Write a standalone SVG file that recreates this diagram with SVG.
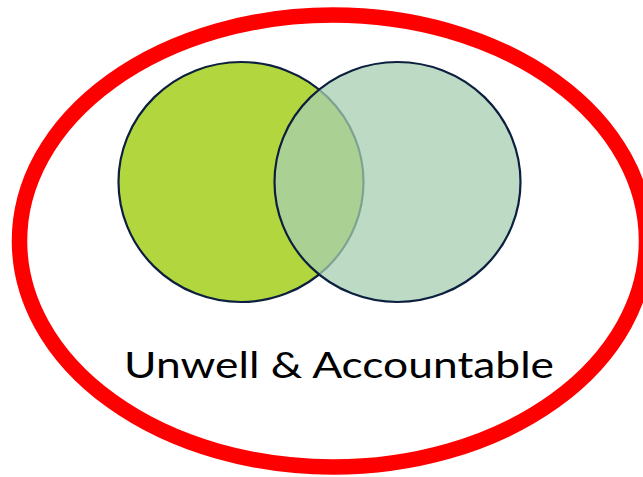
<svg xmlns="http://www.w3.org/2000/svg" width="643" height="477" viewBox="0 0 643 477">
<style>
.ring{fill:none;stroke:#ff0000;stroke-width:15.5}
.set{stroke:#0c1f3f;stroke-width:2.2}
.label{font-family:Lato,"Open Sans",sans-serif;font-size:37px;fill:#000}
</style>
<rect width="643" height="477" fill="#fff"/>
<g id="outer">
<ellipse class="ring" cx="333" cy="241" rx="313.5" ry="226"/>
</g>
<g id="set-a">
<ellipse class="set" cx="241" cy="182" rx="122.5" ry="120" fill="#b2d63e"/>
</g>
<g id="set-b">
<ellipse class="set" cx="397.5" cy="182" rx="123" ry="120" fill="#a7cfb0" fill-opacity="0.75"/>
</g>
<g id="caption">
<text class="label" x="339" y="378" text-anchor="middle" textLength="430" lengthAdjust="spacingAndGlyphs">Unwell &amp; Accountable</text>
</g>
<g id="connectors"/>
</svg>
